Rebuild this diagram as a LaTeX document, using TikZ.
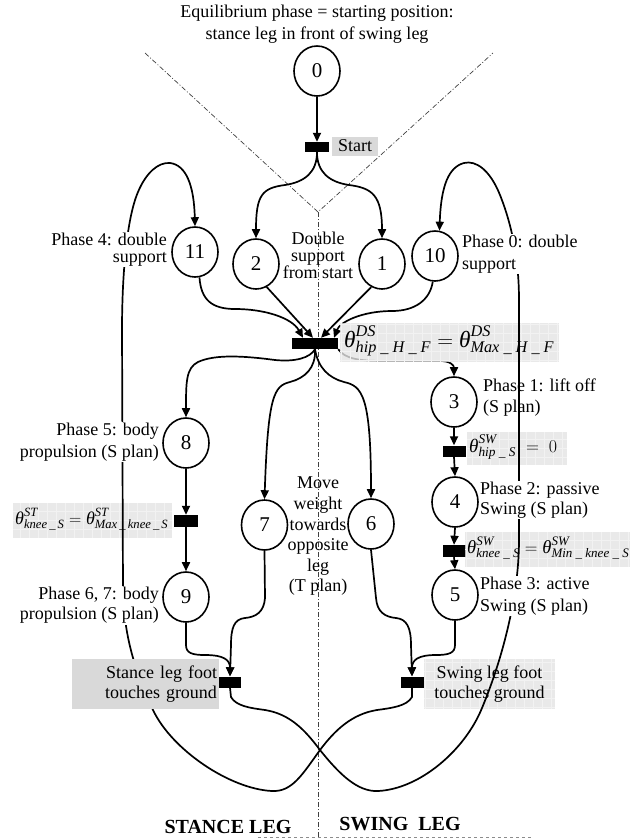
\documentclass[tikz,border=0pt]{standalone}
\usepackage{fontspec}
\usepackage{amsmath}
\usepackage{graphicx}
\setmainfont{Liberation Serif}
\usetikzlibrary{shapes.geometric,arrows.meta}
\newcommand{\itx}[1]{\text{\itshape #1}}
\definecolor{boxgray}{HTML}{E4E4E4}
\definecolor{gridgray}{HTML}{F2F2F2}
\definecolor{solidgray}{HTML}{D9D9D9}
\begin{document}
\begin{tikzpicture}[x=1pt,y=-1pt,
  font=\fontsize{18}{21}\selectfont,
  state/.style={ellipse,draw,line width=1.6pt,minimum width=46pt,minimum height=50pt,inner sep=0pt,fill=white,font=\fontsize{21}{24}\selectfont},
  bar/.style={rectangle,fill=black,inner sep=0pt},
  conn/.style={line width=1.7pt,-{Triangle[length=9pt,width=8pt]}},
  guide/.style={line width=0.7pt,black!75,dash pattern=on 5pt off 2pt on 1pt off 2pt},
  gbox/.style={fill=boxgray,fill opacity=0.8,inner sep=0pt,
    path picture={\draw[gridgray,line width=0.5pt,step=9pt] (path picture bounding box.south west) grid (path picture bounding box.north east);}},
  mtext/.style={inner sep=0pt,anchor=west,font=\fontsize{22}{26}\selectfont},
  wlbl/.style={fill=white,inner sep=1pt},
  lbl/.style={inner sep=1pt}
]
\useasboundingbox (0,0) rectangle (630,839);

% guide lines
\coordinate (vtop1) at (145,53);
\coordinate (vtop2) at (493,53);
\coordinate (vtx) at (318,212);
\coordinate (vbot) at (318,839);
\draw[guide] (vtop1) -- (vtx) -- (vtop2);
\draw[guide] (vtx) -- (vbot);
\draw[line width=0.6pt,black!45,dashed] (258,837.5) -- (533,837.5);

% title
\node[lbl,align=center,font=\fontsize{18}{22}\selectfont] (title) at (317,24) {Equilibrium phase = starting position:\\stance leg in front of swing leg};

% states
\node[state] (n0) at (317,71) {0};
\node[state] (n11) at (195,252) {11};
\node[state] (n2) at (256,264) {2};
\node[state] (n1) at (382,264) {1};
\node[state] (n10) at (435,256) {10};
\node[state] (n3) at (454,402) {3};
\node[state] (n4) at (455,502) {4};
\node[state] (n5) at (455,595) {5};
\node[state] (n8) at (186,443) {8};
\node[state] (n9) at (186,597) {9};
\node[state] (n7) at (264.5,525) {7};
\node[state] (n6) at (371,524) {6};

% bars
\node[bar,minimum width=24pt,minimum height=10pt] (bStart) at (317,147) {};
\node[bar,minimum width=46pt,minimum height=11pt] (bHip) at (315,343.5) {};
\node[bar,minimum width=24pt,minimum height=12pt] (bKST) at (186,521) {};
\node[bar,minimum width=23pt,minimum height=11pt] (bHipS) at (454,451) {};
\node[bar,minimum width=23pt,minimum height=12pt] (bKS) at (454,551) {};
\node[bar,minimum width=22pt,minimum height=11pt] (bStF) at (230,682) {};
\node[bar,minimum width=23pt,minimum height=11pt] (bSwF) at (412,682) {};

% short connectors
\draw[conn] (n0.south) -- (bStart.north);
\draw[conn] (bStart.south) .. controls (317,172) and (305,182) .. (285,185) .. controls (262,188) and (256,195) .. (n2.north);
\draw[conn] (bStart.south) .. controls (317,172) and (329,182) .. (349,185) .. controls (372,188) and (382,195) .. (n1.north);

\draw[conn] (n11.-80) .. controls (201,300) and (212,309) .. (235,309) .. controls (265,309) and (292,318) .. ([xshift=-12pt]bHip.north);
\draw[conn] (n2.-65) -- ([xshift=-2pt]bHip.north);
\draw[conn] (n1.-115) -- ([xshift=6pt]bHip.north);
\draw[conn] (n10.-95) .. controls (430,300) and (415,311) .. (392,311) .. controls (362,311) and (340,322) .. ([xshift=19pt]bHip.north);

\draw[conn] (bHip.south) .. controls (310,358) and (295,362) .. (275,360) .. controls (245,356) and (215,354) .. (198,362) .. controls (186,368) and (186,382) .. (n8.north);
\draw[conn] (bHip.south) .. controls (316,368) and (305,378) .. (290,382) .. controls (274,386) and (268,395) .. (n7.north);
\draw[conn] (bHip.south) .. controls (318,368) and (329,378) .. (344,382) .. controls (362,386) and (371,395) .. (n6.north);
\draw[conn] (bHip.south east) .. controls (345,359) and (360,361) .. (385,361) -- (440,361) .. controls (450,361) and (454,365) .. (n3.north);

\draw[conn] (n3.south) -- (bHipS.north);
\draw[conn] (bHipS.south) -- (n4.north);
\draw[conn] (n4.south) -- (bKS.north);
\draw[conn] (bKS.south) -- (n5.north);
\draw[conn] (n8.south) -- (bKST.north);
\draw[conn] (bKST.south) -- (n9.north);

\draw[conn] (n9.south) -- (186,645) .. controls (186,653) and (192,655) .. (205,655) .. controls (224,655) and (230,660) .. (bStF.north);
\draw[conn] (n7.south) -- (265,598) .. controls (264,612) and (256,617) .. (245,618) .. controls (234,619) and (231,628) .. (231,645) -- (bStF.north);
\draw[conn] (n6.south) -- (376,598) .. controls (377,612) and (385,617) .. (396,618) .. controls (407,619) and (411,628) .. (411,645) -- (bSwF.north);
\draw[conn] (n5.south) -- (455,645) .. controls (455,653) and (449,655) .. (436,655) .. controls (418,655) and (412,660) .. (bSwF.north);

% gray condition boxes
\node[fill=solidgray,inner sep=0pt,minimum width=46pt,minimum height=19pt] (lStart) at (355,146) {Start};
\node[gbox,minimum width=219pt,minimum height=39pt] (gDS) at (449.5,342.5) {};
\node[gbox,minimum width=159pt,minimum height=35pt] (gKST) at (92.5,520.5) {};
\node[gbox,minimum width=100pt,minimum height=33pt] (gHipS) at (517,448.5) {};
\node[gbox,minimum width=165pt,minimum height=35pt] (gKS) at (547.5,549.5) {};
\node[gbox,minimum width=131pt,minimum height=50pt,text opacity=1,align=center,font=\fontsize{18}{20}\selectfont] (lSwF) at (489.5,684) {Swing leg foot\\touches ground};

\node[mtext] (tDS) at (344,341) {\resizebox{210pt}{!}{$\itx{θ}^{\itx{DS}}_{\itx{hip \_ H \_ F}} = \itx{θ}^{\itx{DS}}_{\itx{Max \_ H \_ F}}$}};
\node[mtext] (tKST) at (15,519) {\resizebox{153pt}{!}{$\itx{θ}^{\itx{ST}}_{\itx{knee\,\_\,S}} = \itx{θ}^{\itx{ST}}_{\itx{Max\,\_\,knee\,\_\,S}}$}};
\node[mtext] (tHipS) at (469,447) {\resizebox{88pt}{!}{$\itx{θ}^{\itx{SW}}_{\itx{hip \_ S}} \;=\; 0$}};
\node[mtext] (tKS) at (467,548) {\resizebox{162pt}{!}{$\itx{θ}^{\itx{SW}}_{\itx{knee \_ S}} = \itx{θ}^{\itx{SW}}_{\itx{Min \_ knee \_ S}}$}};

% long return connectors
\draw[conn] (bStF.south) -- (231,697) .. controls (236,706) and (250,708) .. (265,710) .. controls (290,714) and (305,730) .. (320,750) .. controls (340,775) and (358,792) .. (378,791) .. controls (420,789) and (465,750) .. (482,708) .. controls (500,665) and (519,600) .. (519,540) -- (519,300) .. controls (519,260) and (512,225) .. (500,195) .. controls (490,170) and (476,160) .. (464,163) .. controls (449,167) and (441,185) .. (n10.80);
\draw[conn] (bSwF.south) -- (412,697) .. controls (407,706) and (392,708) .. (377,710) .. controls (352,714) and (335,730) .. (320,750) .. controls (302,775) and (292,792) .. (272,791) .. controls (230,789) and (172,750) .. (153,710) .. controls (137,675) and (124,640) .. (123,590) -- (122,330) .. controls (122,280) and (126,220) .. (138,192) .. controls (146,173) and (158,162) .. (170,163) .. controls (186,165) and (194,185) .. (n11.north);

% labels
\node[wlbl,anchor=east,align=right,font=\fontsize{18}{17.5}\selectfont] (p4) at (168,249.5) {Phase 4: double\\support};
\node[lbl,align=center,font=\fontsize{18}{17}\selectfont] (pds) at (318,255) {Double\\support\\from start};
\node[wlbl,anchor=west,align=left,font=\fontsize{18}{22}\selectfont] (p0) at (461,254) {Phase 0: double\\support};
\node[lbl,anchor=west,align=left,font=\fontsize{18}{21}\selectfont] (p1) at (482,397.5) {Phase 1: lift off\\(S plan)};
\node[wlbl,anchor=west,align=left,font=\fontsize{18}{20}\selectfont] (p2) at (479,500) {Phase 2: passive\\Swing (S plan)};
\node[wlbl,anchor=west,align=left,font=\fontsize{18}{22}\selectfont] (p3) at (479,596) {Phase 3: active\\Swing (S plan)};
\node[wlbl,anchor=east,align=right,font=\fontsize{18}{22}\selectfont] (p5) at (160,442) {Phase 5: body\\propulsion (S plan)};
\node[wlbl,anchor=east,align=right,font=\fontsize{18}{20}\selectfont] (p67) at (160,605.5) {Phase 6, 7: body\\propulsion (S plan)};
\node[lbl,align=center,font=\fontsize{18}{20.6}\selectfont] (pmove) at (318,536.5) {Move\\weight\\towards\\opposite\\leg\\(T plan)};
\node[fill=solidgray,inner sep=2pt,minimum width=147pt,minimum height=50pt,text width=143pt,align=right,font=\fontsize{18}{20}\selectfont] (lStF) at (145.5,684) {Stance leg foot\\touches ground};

% leg captions
\node[lbl,font=\fontsize{20}{22}\selectfont\bfseries] (capst) at (228,827) {STANCE LEG};
\node[lbl,font=\fontsize{20}{22}\selectfont\bfseries] (capsw) at (400,824) {SWING~~LEG};
\end{tikzpicture}
\end{document}
